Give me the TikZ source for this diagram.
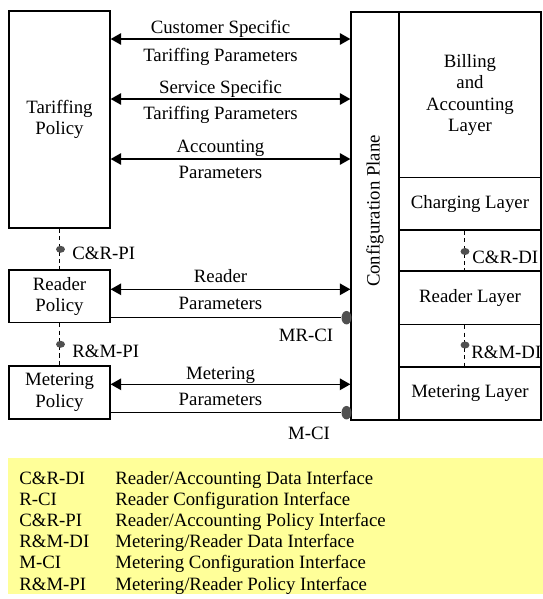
\documentclass[tikz,border=0pt]{standalone}
\usepackage{fontspec}
\setmainfont{Liberation Serif}
\usetikzlibrary{arrows.meta,shapes.geometric}

\definecolor{dotgray}{RGB}{80,80,80}
\definecolor{legendyellow}{RGB}{255,255,153}

\tikzset{
  every node/.style={font=\fontsize{10.7pt}{12.2pt}\selectfont},
  box/.style={draw, line width=0.75pt, inner sep=0pt, align=center},
  biarrow/.style={{Triangle[length=6pt,width=6.6pt]}-{Triangle[length=6pt,width=6.6pt]}, line width=0.75pt},
  plainline/.style={line width=0.75pt},
  ifline/.style={line width=0.75pt, dash pattern=on 2.4pt off 1.9pt},
  pdot/.style={ellipse, fill=dotgray, inner sep=0pt, minimum width=0.18cm, minimum height=0.14cm},
  cdot/.style={ellipse, fill=dotgray, inner sep=0pt, minimum width=0.2cm, minimum height=0.27cm},
  lbl/.style={anchor=base, inner sep=0pt},
  lblw/.style={anchor=base west, inner sep=0pt}
}

\begin{document}
\begin{tikzpicture}[x=0.02cm, y=-0.02cm]
    \useasboundingbox (0,0) rectangle (543,599);
    % policy side
    \node[box, minimum width=2.02cm, minimum height=4.34cm] (tariff) at (59.5,119.5) {Tariffing\\Policy};
    \node[box, minimum width=2.02cm, minimum height=1.05cm] (rpol) at (59.5,296.25) {Reader\\Policy};
    \node[box, minimum width=2.02cm, minimum height=1.06cm] (mpol) at (59.5,392.5) {Metering\\Policy};
    % configuration plane and layers
    \node[box, minimum width=0.96cm, minimum height=8.16cm] (plane) at (375,216) {};
    \node[rotate=90] (planelbl) at (375,211) {Configuration Plane};
    \node[box, minimum width=2.84cm, minimum height=8.16cm] (stack) at (470,216) {};
    \node[box, minimum width=2.84cm, minimum height=3.314cm] (billing) at (470,94.85) {Billing\\and\\Accounting\\Layer};
    \node[box, minimum width=2.84cm, minimum height=1.046cm] (charging) at (470,203.85) {Charging Layer};
    \node[box, minimum width=2.84cm, minimum height=1.066cm] (rlayer) at (470,297.65) {Reader Layer};
    \node[box, minimum width=2.84cm, minimum height=1.06cm] (mlayer) at (470,393.5) {Metering Layer};
    % parameter arrows
    \draw[biarrow] (tariff.east |- 0,39) -- (plane.west |- 0,39);
    \node[lbl] (cust) at (220.5,33.5) {Customer Specific};
    \node[lbl] (custpar) at (220.5,61) {Tariffing Parameters};
    \draw[biarrow] (tariff.east |- 0,99) -- (plane.west |- 0,99);
    \node[lbl] (serv) at (220.5,93.3) {Service Specific};
    \node[lbl] (servpar) at (220.5,119.3) {Tariffing Parameters};
    \draw[biarrow] (tariff.east |- 0,159) -- (plane.west |- 0,159);
    \node[lbl] (acc) at (220.5,152.7) {Accounting};
    \node[lbl] (accpar) at (220.5,178.7) {Parameters};
    \draw[biarrow] (rpol.east |- 0,289.3) -- (plane.west |- 0,289.3);
    \node[lbl] (read) at (220.5,282.7) {Reader};
    \node[lbl] (readpar) at (220.5,309.3) {Parameters};
    \draw[biarrow] (mpol.east |- 0,384.3) -- (plane.west |- 0,384.3);
    \node[lbl] (met) at (220.5,379.3) {Metering};
    \node[lbl] (metpar) at (220.5,405) {Parameters};
    % configuration interfaces
    \node[cdot] (mrci) at (346.5,317.7) {};
    \draw[plainline] (rpol.east |- mrci) -- (mrci);
    \node[lbl] (mrcilbl) at (306,341) {MR-CI};
    \node[cdot] (mci) at (346.5,412.7) {};
    \draw[plainline] (mpol.east |- mci) -- (mci);
    \node[lbl] (mcilbl) at (309,439) {M-CI};
    % policy interfaces
    \draw[ifline] (tariff.south) -- (rpol.north);
    \node[pdot] (crpi) at (60.5,249.3) {};
    \node[lblw] (crpilbl) at (72,259) {C\&R-PI};
    \draw[ifline] (rpol.south) -- (mpol.north);
    \node[pdot] (rmpi) at (60.5,344.3) {};
    \node[lblw] (rmpilbl) at (72,357) {R\&M-PI};
    % data interfaces
    \coordinate (crdix) at (464.3,0);
    \draw[ifline] (charging.south -| crdix) -- (rlayer.north -| crdix);
    \node[pdot] (crdi) at (465,251.5) {};
    \node[lblw] (crdilbl) at (472,263) {C\&R-DI};
    \draw[ifline] (rlayer.south -| crdix) -- (mlayer.north -| crdix);
    \node[pdot] (rmdi) at (465,345) {};
    \node[lblw] (rmdilbl) at (471,358) {R\&M-DI};
    % legend
    \fill[legendyellow] (8.3,458.3) rectangle (543,594);
    \foreach \ab/\txt [count=\i from 0] in {
        {C\&R-DI}/{Reader/Accounting Data Interface},
        {R-CI}/{Reader Configuration Interface},
        {C\&R-PI}/{Reader/Accounting Policy Interface},
        {R\&M-DI}/{Metering/Reader Data Interface},
        {M-CI}/{Metering Configuration Interface},
        {R\&M-PI}/{Metering/Reader Policy Interface}} {
      \node[lblw] (ab\i) at (19,484+21.2*\i) {\ab};
      \node[lblw] (tx\i) at (115,484+21.2*\i) {\txt};
    }
\end{tikzpicture}
\end{document}
